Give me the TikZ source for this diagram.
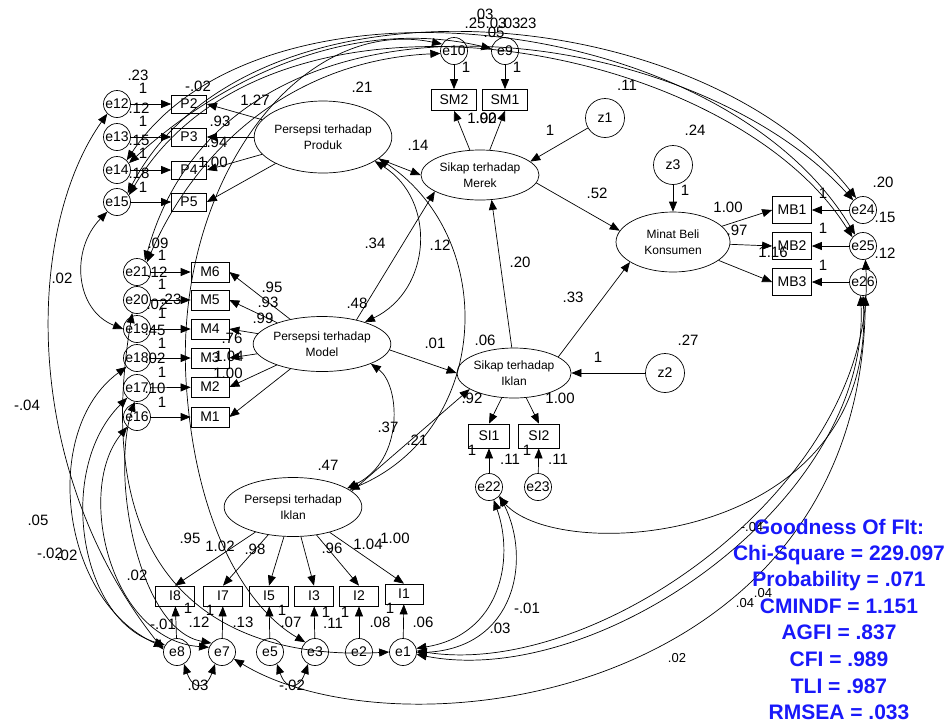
\documentclass[tikz,border=0pt]{standalone}
\usepackage{fontspec}
\setmainfont{Liberation Sans}
\usetikzlibrary{arrows.meta,shapes.geometric}
\definecolor{fitblue}{RGB}{25,25,250}
\begin{document}
\begin{tikzpicture}[x=1pt,y=-1pt,line width=0.7pt,
  >={Triangle[length=10pt,width=8pt]},
  obs/.style={draw, rectangle, inner sep=0pt, font=\fontsize{14}{16}\selectfont},
  err/.style={draw, circle, minimum size=27pt, inner sep=0pt, font=\fontsize{14}{16}\selectfont},
  dist/.style={draw, circle, minimum size=39pt, inner sep=0pt, font=\fontsize{14}{16}\selectfont},
  lat/.style={draw, ellipse, inner sep=0pt, align=center, font=\fontsize{12}{16}\selectfont},
  lbl/.style={inner sep=0pt, font=\fontsize{15}{17}\selectfont},
  slbl/.style={inner sep=0pt, font=\fontsize{13}{15}\selectfont},
  fitt/.style={inner sep=0pt, anchor=base, text=fitblue, font=\bfseries\fontsize{21}{24}\selectfont},
  ln/.style={->},
  cv/.style={<->}]
\useasboundingbox (0,0) rectangle (950,724);
\fill[white] (0,0) rectangle (950,724);

% latent variables
\node[lat, minimum width=124pt, minimum height=72pt] (Prod) at (323,137) {Persepsi terhadap\\Produk};
\node[lat, minimum width=118pt, minimum height=50pt] (Merek) at (480,175) {Sikap terhadap\\Merek};
\node[lat, minimum width=114pt, minimum height=60pt] (Minat) at (673,242) {Minat Beli\\Konsumen};
\node[lat, minimum width=112pt, minimum height=55pt] (Model) at (322,344) {Persepsi terhadap\\Model};
\node[lat, minimum width=102pt, minimum height=50pt] (SIk) at (514,373) {Sikap terhadap\\Iklan};
\node[lat, minimum width=110pt, minimum height=59pt] (PIk) at (293,507) {Persepsi terhadap\\Iklan};

% observed
\foreach \n/\yy in {P2/104,P3/137,P4/170,P5/202}
  \node[obs, minimum width=35pt, minimum height=18pt] (\n) at (189,\yy) {\n};
\foreach \n/\yy in {M6/272,M5/300,M4/329,M3/358,M2/387,M1/417}
  \node[obs, minimum width=38pt, minimum height=20pt] (\n) at (210,\yy) {\n};
\node[obs, minimum width=45pt, minimum height=21pt] (SM2) at (454,100) {SM2};
\node[obs, minimum width=45pt, minimum height=21pt] (SM1) at (505,100) {SM1};
\foreach \n/\yy in {MB1/210,MB2/246,MB3/282}
  \node[obs, minimum width=39pt, minimum height=27pt] (\n) at (792,\yy) {\n};
\node[obs, minimum width=41pt, minimum height=24pt] (SI1) at (489,436) {SI1};
\node[obs, minimum width=41pt, minimum height=24pt] (SI2) at (539,436) {SI2};
\foreach \n/\xx in {I8/175,I7/223,I5/269,I3/314,I2/359}
  \node[obs, minimum width=39pt, minimum height=20pt] (\n) at (\xx,596) {\n};
\node[obs, minimum width=38pt, minimum height=20pt] (I1) at (404,594) {I1};

% errors
\foreach \n/\yy in {e12/104,e13/137,e14/170,e15/202}
  \node[err] (\n) at (117,\yy) {\n};
\foreach \n/\yy in {e21/272,e20/300,e19/329,e18/358,e17/388,e16/417}
  \node[err] (\n) at (137,\yy) {\n};
\node[err] (e10) at (454,51) {e10};
\node[err] (e9) at (505,51) {e9};
\foreach \n/\yy in {e24/210,e25/246,e26/282}
  \node[err] (\n) at (863,\yy) {\n};
\node[err] (e22) at (489,487) {e22};
\node[err] (e23) at (538,487) {e23};
\foreach \n/\xx in {e8/177,e7/222,e5/270,e3/315,e2/359,e1/403}
  \node[err] (\n) at (\xx,652) {\n};
\node[dist] (z1) at (605,118) {z1};
\node[dist] (z3) at (673,165) {z3};
\node[dist] (z2) at (665,373) {z2};

% measurement paths
\foreach \b in {P2,P3,P4,P5} \draw[ln] (Prod) -- (\b.east);
\foreach \b in {M1,M2,M3,M4,M5,M6} \draw[ln] (Model) -- (\b.east);
\foreach \b in {I8,I7,I5,I3,I2,I1} \draw[ln] (PIk) -- (\b.north);
\foreach \b in {MB1,MB2,MB3} \draw[ln] (Minat) -- (\b.west);
\draw[ln] (Merek) -- (SM2.south);
\draw[ln] (Merek) -- (SM1.south);
\draw[ln] (SIk) -- (SI1.north);
\draw[ln] (SIk) -- (SI2.north);
\foreach \e/\b in {e12/P2,e13/P3,e14/P4,e15/P5,e21/M6,e20/M5,e19/M4,e18/M3,e17/M2,e16/M1,e10/SM2,e9/SM1,e24/MB1,e25/MB2,e26/MB3,e22/SI1,e23/SI2,e8/I8,e7/I7,e5/I5,e3/I3,e2/I2,e1/I1}
  \draw[ln] (\e) -- (\b);

% structural paths
\draw[ln] (Prod) -- (Merek.west);
\draw[ln] (Model.35) -- (Merek.200);
\draw[ln] (SIk.95) -- (Merek.-65);
\draw[ln] (Merek.-8) -- (Minat.168);
\draw[ln] (SIk.20) -- (Minat.205);
\draw[ln] (Model.-5) -- (SIk.180);
\draw[ln] (PIk.15) -- (SIk.200);
\draw[ln] (z1) -- (Merek.15);
\draw[ln] (z3) -- (Minat);
\draw[ln] (z2) -- (SIk);

% latent covariances
\draw[cv] (Prod.-25) .. controls (437,200) and (432,290) .. (Model.27);
\draw[cv] (Prod.-21) .. controls (500,240) and (490,430) .. (PIk.17);
\draw[cv] (Model.-22) .. controls (400,385) and (405,460) .. (PIk.19);

% error covariances (right / bottom)
\draw[cv] (e22.-45) .. controls (560,565) and (875,545) .. (e26.-90);
\draw[cv] (e1.-10) .. controls (600,690) and (870,500) .. (e26.-100);
\draw[cv] (e1.5) .. controls (600,680) and (878,480) .. (e25.-80);
\draw[cv] (e7.-30) .. controls (400,760) and (860,700) .. (e26.-80);
\draw[cv] (e22.-70) .. controls (515,560) and (500,635) .. (e1.15);
\draw[cv] (e22.-40) .. controls (532,560) and (515,648) .. (e1.-3);
\draw[cv] (e8.-60) .. controls (193,690) and (206,690) .. (e7.-120);
\draw[cv] (e5.-60) .. controls (286,690) and (299,690) .. (e3.-120);

% error covariances (left)
\draw[cv] (e12.-135) .. controls (25,230) and (20,470) .. (e8.170);
\draw[cv] (e15.-135) .. controls (70,250) and (75,310) .. (e19.180);
\draw[cv] (e18.-140) .. controls (40,430) and (60,600) .. (e8.160);
\draw[cv] (e17.-135) .. controls (55,470) and (80,620) .. (e8.150);
\draw[cv] (e16.-135) .. controls (75,490) and (110,640) .. (e7.160);
\draw[cv] (e17.-100) .. controls (110,480) and (140,630) .. (e7.140);

% error covariances (long, top)
\draw[cv] (e10.150) .. controls (300,15) and (175,180) .. (186,380) .. controls (195,530) and (250,610) .. (e3.135);
\draw[cv] (e20.-110) .. controls (85,600) and (240,660) .. (e1.180);
\draw[cv] (e21.45) .. controls (200,140) and (300,60) .. (e10.190);
\draw[cv] (e14.30) .. controls (220,80) and (350,15) .. (e9.170);
\draw[cv] (e15.40) .. controls (250,-40) and (700,0) .. (e24.120);
\draw[cv] (e14.45) .. controls (260,-40) and (720,10) .. (e25.125);
\draw[cv] (e21.55) .. controls (230,-45) and (690,20) .. (e24.135);
\draw[cv] (e15.30) .. controls (270,-45) and (730,40) .. (e25.140);

% estimates
\foreach \s/\x/\y [count=\i] in {
 .23/138/75, 1/143/88, .12/139/108, 1/143/121, .15/139/140, 1/143/153, .18/139/173, 1/143/187,
 -.02/198/86, 1.27/255/100, .93/220/121, .94/217/142, 1.00/213/162, .21/362/87,
 .09/158/243, 1/162/255, .12/157/272, 1/162/284, .23/171/299, .02/157/304, 1/162/313, .45/155/330, 1/162/343, .02/155/358, 1/162/372, .10/155/388, 1/162/402,
 .95/272/287, .93/268/302, .99/263/318, .76/232/338, 1.04/229/356, 1.00/228/373,
 1/466/67, 1/517/67, 1.00/482/118, .92/486/118,
 .25/475/23, .03/483/14, .03/496/23, .03/510/23, .23/526/23, .05/494/32,
 .14/418/145, .52/597/193, .11/627/85, 1/550/130, .24/695/130, 1/685/190,
 1.00/728/207, .97/737/230, 1.16/773/252, 1/823/193, 1/823/228, 1/823/265, .20/883/182, .15/885/217, .12/885/253,
 .34/375/243, .12/440/245, .20/520/262, .33/573/297, .48/357/303, .01/435/343, .06/485/340, .27/688/340, 1/598/357,
 .92/472/398, 1.00/560/398, .37/388/427, .21/417/440, 1/472/450, .11/510/459, 1/527/450, .11/558/459, .47/328/465,
 .95/190/538, 1.02/220/546, .98/255/549, .96/332/548, 1.04/368/544, 1.00/395/538,
 1/188/608, 1/210/610, 1/282/610, 1/326/612, 1/345/612, 1/390/608,
 -.01/163/624, .12/199/622, .13/243/622, .07/291/622, .11/333/623, .08/380/622, .06/423/622,
 .03/198/685, -.02/292/685, .02/137/575, .03/500/628, -.01/527/608,
 .02/62/278, -.04/27/405, .05/38/520, -.02/50/553, .02/67/555}
  \node[lbl] (n\i) at (\x,\y) {\s};
\foreach \s/\x/\y [count=\i] in {-.04/752/527, .04/745/603, .04/763/593, .02/677/658}
  \node[slbl] (s\i) at (\x,\y) {\s};

% fit statistics
\node[fitt] (g1) at (839,534) {Goodness Of FIt:};
\node[fitt] (g2) at (839,560) {Chi-Square = 229.097};
\node[fitt] (g3) at (839,586) {Probability = .071};
\node[fitt] (g4) at (839,613) {CMINDF = 1.151};
\node[fitt] (g5) at (839,639.5) {AGFI = .837};
\node[fitt] (g6) at (839,666.5) {CFI = .989};
\node[fitt] (g7) at (839,693) {TLI = .987};
\node[fitt] (g8) at (839,719.5) {RMSEA = .033};
\end{tikzpicture}
\end{document}
